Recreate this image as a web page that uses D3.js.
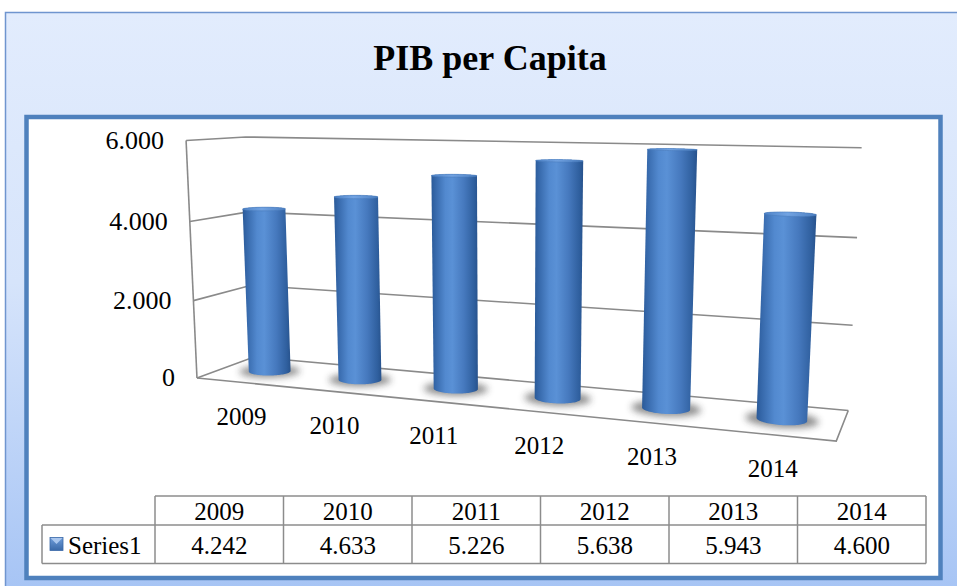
<html>
<head>
<meta charset="utf-8">
<title>PIB per Capita</title>
<style>
  body { margin: 0; padding: 0; background: #ffffff; }
  svg { display: block; }
  text { font-family: "Liberation Serif", "Times New Roman", serif; fill: #000; }
  .grid { fill: none; stroke: #8a8a8a; stroke-width: 1.6; }
  .cell { fill: none; stroke: #8c8c8c; stroke-width: 1.5; }
</style>
</head>
<body>
<script src="https://d3js.org/d3.v7.min.js"></script>
<script>
// ---- data ----
var years = ["2009", "2010", "2011", "2012", "2013", "2014"];
var pib = [4242, 4633, 5226, 5638, 5943, 4600];
var valueTicks = [0, 2000, 4000, 6000];
var chartTitle = "PIB per Capita";
var seriesName = "Series1";

var width = 957, height = 586;

// numbers like 6.000 (dot as thousands separator)
var fmt = d3.formatLocale({ decimal: ",", thousands: ".", grouping: [3], currency: ["", ""] }).format(",");

var svg = d3.select("body").append("svg")
    .attr("width", width)
    .attr("height", height);

var defs = svg.append("defs");

// background gradient of the outer panel
var bg = defs.append("linearGradient").attr("id", "bg")
    .attr("x1", 0).attr("y1", 0).attr("x2", 0).attr("y2", 1);
bg.append("stop").attr("offset", "0%").attr("stop-color", "#e2ecfd");
bg.append("stop").attr("offset", "45%").attr("stop-color", "#d6e4fb");
bg.append("stop").attr("offset", "100%").attr("stop-color", "#a3c2f4");

// cylinder side shading
var side = defs.append("linearGradient").attr("id", "side")
    .attr("x1", 0).attr("y1", 0).attr("x2", 1).attr("y2", 0);
[["0%", "#2a5a98"], ["8%", "#3567a9"], ["30%", "#5289cf"], ["45%", "#5a91d6"],
 ["70%", "#4679be"], ["92%", "#2f5f9e"], ["100%", "#27528c"]].forEach(function(s) {
    side.append("stop").attr("offset", s[0]).attr("stop-color", s[1]);
});

var cap = defs.append("linearGradient").attr("id", "cap")
    .attr("x1", 0).attr("y1", 0).attr("x2", 1).attr("y2", 0);
cap.append("stop").attr("offset", "0%").attr("stop-color", "#4f84c8");
cap.append("stop").attr("offset", "45%").attr("stop-color", "#72a3e2");
cap.append("stop").attr("offset", "100%").attr("stop-color", "#4d80c2");

var key = defs.append("linearGradient").attr("id", "key")
    .attr("x1", 0).attr("y1", 0).attr("x2", 0).attr("y2", 1);
key.append("stop").attr("offset", "0%").attr("stop-color", "#6f9dda");
key.append("stop").attr("offset", "100%").attr("stop-color", "#3a69a8");

defs.append("filter").attr("id", "soft")
    .attr("x", "-50%").attr("y", "-100%").attr("width", "200%").attr("height", "300%")
    .append("feGaussianBlur").attr("stdDeviation", 3.5);

// ---- panels ----
svg.append("rect")
    .attr("x", 5.5).attr("y", 12.5)
    .attr("width", 1000).attr("height", 600)
    .attr("fill", "url(#bg)")
    .attr("stroke", "#6f95cf").attr("stroke-width", 1.5);

svg.append("text")
    .attr("x", 490).attr("y", 70)
    .attr("text-anchor", "middle")
    .style("font-size", "36px")
    .style("font-weight", "bold")
    .text(chartTitle);

svg.append("rect")
    .attr("x", 26.5).attr("y", 117)
    .attr("width", 914).attr("height", 461)
    .attr("fill", "#ffffff")
    .attr("stroke", "#4f81bd").attr("stroke-width", 4.5);

// ---- 3d scales ----
var x3 = d3.scaleBand().domain(years).range([0, 6]);
var y3 = d3.scaleLinear().domain([0, 6000]).range([0, 2.25]);
var z3 = d3.scaleLinear().domain([0, 1]).range([0, 1.16]);   // 0 = front, 1 = back wall

// camera: fitted to where the walls sit in the picture
// [band edge, value, depth, screen x, screen y]
var frameAnchors = [
    [0, 0, 0, 197.7, 377.7],
    [0, 2000, 0, 193.5, 300],
    [0, 4000, 0, 190, 221.7],
    [0, 6000, 0, 185.3, 140.3],
    [0, 2000, 1, 250, 286.5],
    [0, 4000, 1, 248.5, 211.5],
    [0, 6000, 1, 246.7, 137],
    [6, 0, 1, 848.3, 410],
    [6, 2000, 1, 853, 324],
    [6, 4000, 1, 857, 238],
    [6, 6000, 1, 861.5, 148],
    [6, 0, 0, 836, 442.3]
];

var U0 = 500, V0 = 300, S = 100;

function solve(M) {
    var n = M.length;
    for (var c = 0; c < n; c++) {
        var p = c;
        for (var r = c + 1; r < n; r++) if (Math.abs(M[r][c]) > Math.abs(M[p][c])) p = r;
        var tmp = M[c]; M[c] = M[p]; M[p] = tmp;
        for (var r2 = 0; r2 < n; r2++) {
            if (r2 === c) continue;
            var f = M[r2][c] / M[c][c];
            for (var k = c; k <= n; k++) M[r2][k] -= f * M[c][k];
        }
    }
    return M.map(function(row, i) { return row[n] / row[i]; });
}

function fitCamera(anchors) {
    var rows = [], rhs = [];
    anchors.forEach(function(a) {
        var X = a[0], Y = y3(a[1]), Z = z3(a[2]);
        var u = (a[3] - U0) / S, v = (a[4] - V0) / S;
        rows.push([X, Y, Z, 1, 0, 0, 0, 0, -u * X, -u * Y, -u * Z]); rhs.push(u);
        rows.push([0, 0, 0, 0, X, Y, Z, 1, -v * X, -v * Y, -v * Z]); rhs.push(v);
    });
    var n = 11;
    var N = d3.range(n).map(function() { return d3.range(n + 1).map(function() { return 0; }); });
    rows.forEach(function(row, k) {
        for (var i = 0; i < n; i++) {
            for (var j = 0; j < n; j++) N[i][j] += row[i] * row[j];
            N[i][n] += row[i] * rhs[k];
        }
    });
    return solve(N);
}

var m = fitCamera(frameAnchors);

function project(X, Y, Z) {
    var w = m[8] * X + m[9] * Y + m[10] * Z + 1;
    return [U0 + S * (m[0] * X + m[1] * Y + m[2] * Z + m[3]) / w,
            V0 + S * (m[4] * X + m[5] * Y + m[6] * Z + m[7]) / w];
}

var line = d3.line();
var X0 = x3.range()[0], X1 = x3.range()[1];
var Zf = z3(0), Zb = z3(1);

// ---- walls & gridlines ----
var plot = svg.append("g");

valueTicks.forEach(function(t) {
    var Y = y3(t);
    plot.append("path").attr("class", "grid")
        .attr("d", line([project(X0, Y, Zf), project(X0, Y, Zb), project(X1, Y, Zb)]));
});
// floor front + right edges, left wall front edge
plot.append("path").attr("class", "grid")
    .attr("d", line([project(X0, 0, Zf), project(X1, 0, Zf), project(X1, 0, Zb)]));
plot.append("path").attr("class", "grid")
    .attr("d", line([project(X0, 0, Zf), project(X0, y3(6000), Zf)]));

// value labels
plot.selectAll(".ylab")
    .data(valueTicks)
    .enter().append("text")
    .attr("class", "ylab")
    .attr("x", function(t) { return project(X0, y3(t), Zf)[0] - 22; })
    .attr("y", function(t) { return project(X0, y3(t), Zf)[1]; })
    .attr("text-anchor", "end")
    .attr("dominant-baseline", "central")
    .style("font-size", "26px")
    .text(function(t) { return fmt(t); });

// ---- cylinders ----
var radius = 0.21;
var angles = d3.range(0, 360, 4).map(function(a) { return a * Math.PI / 180; });
var Zc = z3(0.5);

function ring(xc, Y, r) {
    return angles.map(function(a) {
        return project(xc + r * Math.cos(a), Y, Zc + r * Math.sin(a));
    });
}

var cyl = plot.selectAll(".cyl")
    .data(years.map(function(y, i) { return { year: y, value: pib[i] }; }))
    .enter().append("g")
    .attr("class", "cyl");

cyl.each(function(d) {
    var g = d3.select(this);
    var xc = x3(d.year) + x3.bandwidth() / 2;
    var top = y3(d.value);
    var base = ring(xc, 0, radius);
    var lid = ring(xc, top, radius);

    g.append("path")
        .attr("d", line(ring(xc, 0, radius * 1.45)) + "Z")
        .attr("fill", "#333")
        .attr("opacity", 0.55)
        .attr("filter", "url(#soft)");

    g.append("path")
        .attr("d", line(d3.polygonHull(base.concat(lid))) + "Z")
        .attr("fill", "url(#side)");

    g.append("path")
        .attr("d", line(lid) + "Z")
        .attr("fill", "url(#cap)")
        .attr("stroke", "#4a7cbc")
        .attr("stroke-width", 0.6);
});

// category labels in front of the floor
plot.selectAll(".xlab")
    .data(years)
    .enter().append("text")
    .attr("class", "xlab")
    .attr("x", function(y) { return project(x3(y) + x3.bandwidth() / 2, 0, Zf)[0]; })
    .attr("y", function(y) { return project(x3(y) + x3.bandwidth() / 2, 0, Zf)[1] + 34; })
    .attr("text-anchor", "middle")
    .attr("dominant-baseline", "central")
    .style("font-size", "25px")
    .text(function(y) { return y; });

// ---- data table ----
var col = d3.scaleBand().domain(years).range([155, 926]);
var rowTop = 496, rowMid = 525, rowBot = 563.5, keyLeft = 42;

var table = svg.append("g");

table.append("path").attr("class", "cell")
    .attr("d", line([[col.range()[0], rowTop], [col.range()[1], rowTop]]));
table.append("path").attr("class", "cell")
    .attr("d", line([[keyLeft, rowMid], [col.range()[1], rowMid]]));
table.append("path").attr("class", "cell")
    .attr("d", line([[keyLeft, rowBot], [col.range()[1], rowBot]]));
table.append("path").attr("class", "cell")
    .attr("d", line([[keyLeft, rowMid], [keyLeft, rowBot]]));
table.selectAll(".vline")
    .data(years.map(function(y) { return col(y); }).concat([col.range()[1]]))
    .enter().append("path")
    .attr("class", "cell vline")
    .attr("d", function(x) { return line([[x, rowTop], [x, rowBot]]); });

table.selectAll(".thead")
    .data(years)
    .enter().append("text")
    .attr("class", "thead")
    .attr("x", function(y) { return col(y) + col.bandwidth() / 2; })
    .attr("y", (rowTop + rowMid) / 2 + 1)
    .attr("text-anchor", "middle")
    .attr("dominant-baseline", "central")
    .style("font-size", "25px")
    .text(function(y) { return y; });

table.selectAll(".tval")
    .data(pib)
    .enter().append("text")
    .attr("class", "tval")
    .attr("x", function(v, i) { return col(years[i]) + col.bandwidth() / 2; })
    .attr("y", (rowMid + rowBot) / 2 + 1)
    .attr("text-anchor", "middle")
    .attr("dominant-baseline", "central")
    .style("font-size", "25px")
    .text(function(v) { return fmt(v); });

// legend key + series name
table.append("rect")
    .attr("x", 50).attr("y", 537.5)
    .attr("width", 13).attr("height", 13)
    .attr("fill", "url(#key)")
    .attr("stroke", "#3a69a8").attr("stroke-width", 0.8);
table.append("path")
    .attr("d", line([[50.5, 538], [62.5, 538], [56.5, 544]]) + "Z")
    .attr("fill", "#a9c6ee");
table.append("text")
    .attr("x", 68).attr("y", (rowMid + rowBot) / 2 + 1)
    .attr("dominant-baseline", "central")
    .style("font-size", "25px")
    .text(seriesName);
</script>
</body>
</html>
